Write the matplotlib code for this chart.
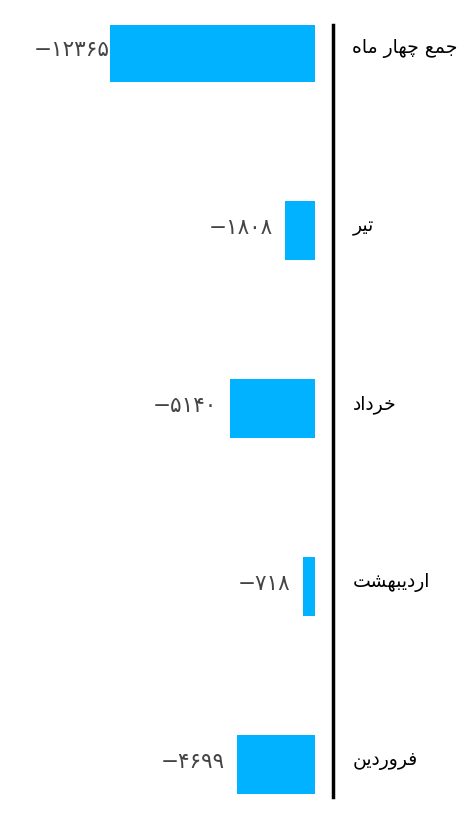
import matplotlib

matplotlib.use("Agg")
import matplotlib.pyplot as plt

# bottom to top
months = ["فروردین", "اردیبهشت", "خرداد", "تیر", "جمع چهار ماه"]
values = [-4699, -718, -5140, -1808, -12365]

BAR_COLOR = "#00B2FF"

# minimal arabic/persian shaping: (isolated, final, initial, medial); None = no left join
FORMS = {
    "ا": ("\uFE8D", "\uFE8E", None, None),
    "ب": ("\uFE8F", "\uFE90", "\uFE91", "\uFE92"),
    "ت": ("\uFE95", "\uFE96", "\uFE97", "\uFE98"),
    "ج": ("\uFE9D", "\uFE9E", "\uFE9F", "\uFEA0"),
    "خ": ("\uFEA5", "\uFEA6", "\uFEA7", "\uFEA8"),
    "د": ("\uFEA9", "\uFEAA", None, None),
    "ر": ("\uFEAD", "\uFEAE", None, None),
    "ش": ("\uFEB5", "\uFEB6", "\uFEB7", "\uFEB8"),
    "ع": ("\uFEC9", "\uFECA", "\uFECB", "\uFECC"),
    "ف": ("\uFED1", "\uFED2", "\uFED3", "\uFED4"),
    "م": ("\uFEE1", "\uFEE2", "\uFEE3", "\uFEE4"),
    "ن": ("\uFEE5", "\uFEE6", "\uFEE7", "\uFEE8"),
    "ه": ("\uFEE9", "\uFEEA", "\uFEEB", "\uFEEC"),
    "و": ("\uFEED", "\uFEEE", None, None),
    "چ": ("\uFB7A", "\uFB7B", "\uFB7C", "\uFB7D"),
    "ی": ("\uFBFC", "\uFBFD", "\uFBFE", "\uFBFF"),
}


def shape(text):
    out = []
    for i, ch in enumerate(text):
        if ch not in FORMS:
            out.append(ch)
            continue
        prev = text[i - 1] if i > 0 else None
        nxt = text[i + 1] if i + 1 < len(text) else None
        joins_prev = prev in FORMS and FORMS[prev][2] is not None
        joins_next = nxt in FORMS and FORMS[ch][2] is not None
        iso, fin, ini, med = FORMS[ch]
        if joins_prev and joins_next:
            out.append(med)
        elif joins_prev:
            out.append(fin)
        elif joins_next:
            out.append(ini)
        else:
            out.append(iso)
    return "".join(reversed(out))


def fa_digits(v):
    s = str(abs(v)).translate(str.maketrans("0123456789", "۰۱۲۳۴۵۶۷۸۹"))
    return ("\u2212" if v < 0 else "") + s


W, H = 473, 818
fig = plt.figure(figsize=(W / 100, H / 100), dpi=100)

# axes spans from the longest bar's end to the black baseline
left_px, right_px, zero_px = 110, 333, 315
top_px, bottom_px = 25, 797
ax = fig.add_axes([left_px / W, 1 - bottom_px / H,
                   (right_px - left_px) / W, (bottom_px - top_px) / H])

xmin = min(values)
xmax = -xmin * (right_px - zero_px) / (zero_px - left_px)
ax.set_xlim(xmin, xmax)

step = 178
ax.set_ylim(-32.5 / step, len(values) - 1 + 27.5 / step)

pos = list(range(len(values)))
bars = ax.barh(pos, values, height=59 / step, color=BAR_COLOR, zorder=2)

for spine in ["top", "left", "bottom"]:
    ax.spines[spine].set_visible(False)
ax.spines["right"].set_linewidth(2.5)
ax.spines["right"].set_color("black")
ax.set_xticks([])
ax.set_yticks([])

for b, v in zip(bars, values):
    pad = 0 if v == xmin else -9
    ax.annotate(fa_digits(v), xy=(v, b.get_y() + b.get_height() / 2),
                xytext=(pad, 2), textcoords="offset points",
                ha="right", va="center", fontsize=15.5, color="#444444",
                family=["DejaVu Sans"], annotation_clip=False)

for p, m in zip(pos, months):
    ax.annotate(shape(m), xy=(1, p), xycoords=("axes fraction", "data"),
                xytext=(14, 3), textcoords="offset points",
                ha="left", va="center", fontsize=13.5, color="black",
                family=["DejaVu Sans"], annotation_clip=False)

fig.savefig("out.png", dpi=100)
